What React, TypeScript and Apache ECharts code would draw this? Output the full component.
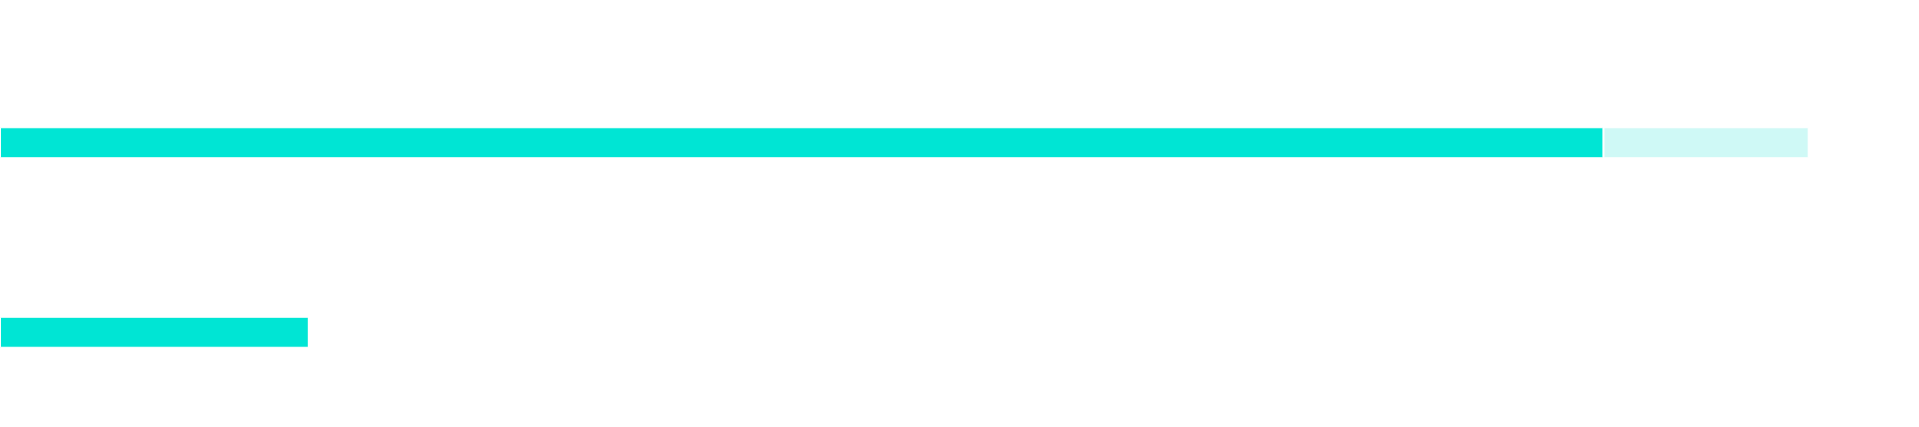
import React, { useEffect, useRef } from 'react';
import * as echarts from 'echarts';

const categories = ['A', 'B'];
const doneValues = [83.6, 16.1];
const restValues = [10.7, 0];

const MAIN = '#00E5D4';
const LIGHT = '#CFF9F6';

export default function App() {
  const ref = useRef<HTMLDivElement>(null);

  useEffect(() => {
    if (!ref.current) return;
    const chart = echarts.init(ref.current, null, { renderer: 'svg' });
    chart.setOption({
      animation: false,
      backgroundColor: '#fff',
      grid: { left: 0, right: 1, top: 48, height: 381, containLabel: false },
      xAxis: {
        type: 'value',
        min: 0,
        max: 100,
        show: false
      },
      yAxis: {
        type: 'category',
        data: categories,
        inverse: true,
        show: false
      },
      series: [
        {
          name: 'done',
          type: 'bar',
          stack: 'total',
          barWidth: 31,
          data: doneValues,
          itemStyle: { color: MAIN, borderColor: '#fff', borderWidth: 1 }
        },
        {
          name: 'rest',
          type: 'bar',
          stack: 'total',
          barWidth: 31,
          data: restValues,
          itemStyle: { color: LIGHT, borderColor: '#fff', borderWidth: 1 }
        }
      ]
    });
    return () => chart.dispose();
  }, []);

  return (
    <div
      ref={ref}
      style={{ position: 'fixed', left: 0, top: 0, width: 1919, height: 427, background: '#fff' }}
    />
  );
}
